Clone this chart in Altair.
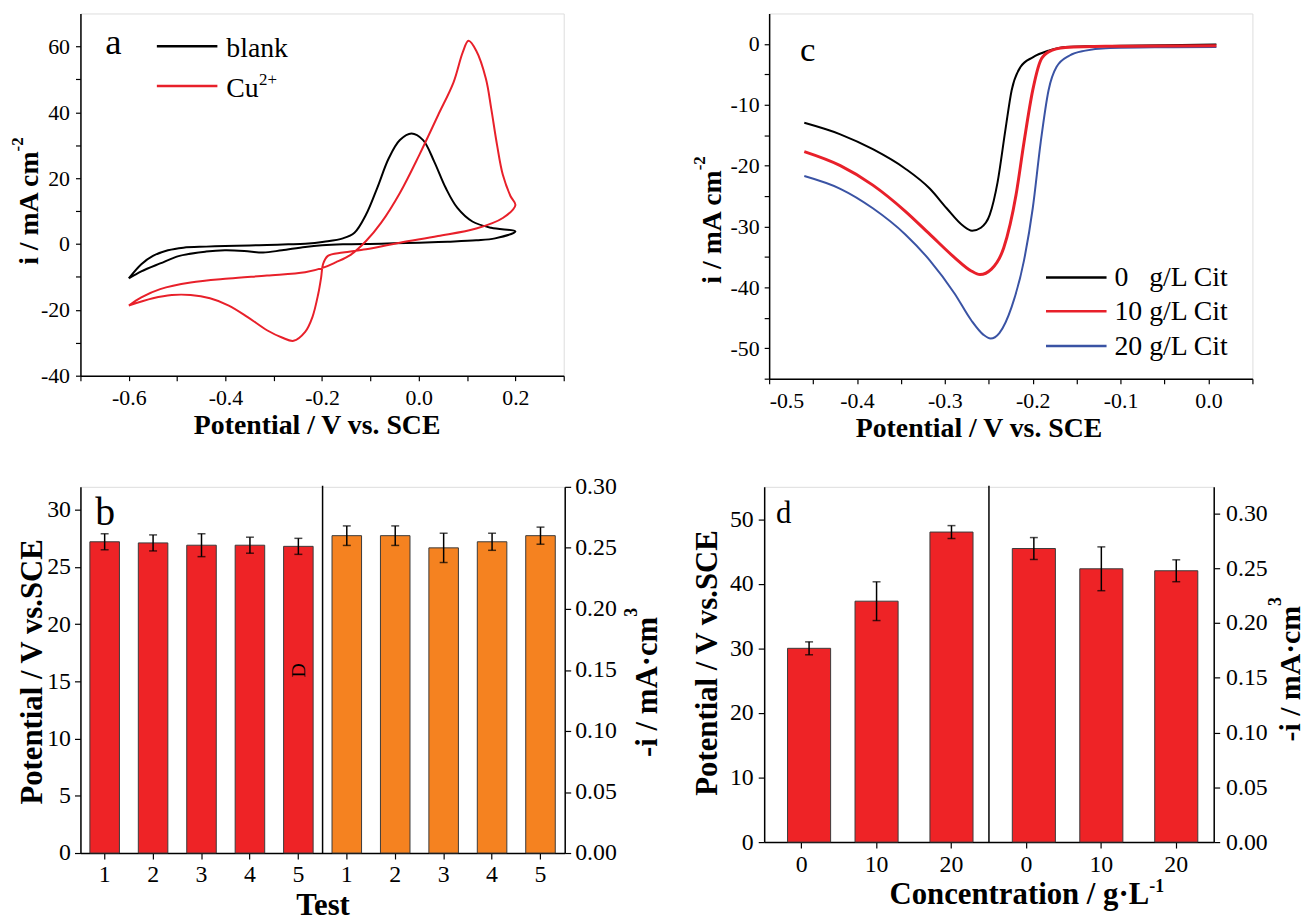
import altair as alt
import pandas as pd

SERIF = "Liberation Serif"
RED_LINE = "#E8202A"
BLUE_LINE = "#3A53A4"
BAR_RED = "#EE2326"
BAR_ORANGE = "#F58220"
EDGE = "#3a3a3a"

# ---------------- panel a : CV curves ----------------
A_BLANK_V = [-0.600, -0.574, -0.550, -0.519, -0.487, -0.440, -0.401, -0.350, -0.314, -0.270,
             -0.235, -0.196, -0.157, -0.133, -0.109, -0.086, -0.062, -0.039, -0.015, 0.009,
             0.032, 0.056, 0.080, 0.111, 0.150, 0.200,
             0.158, 0.119, 0.060, 0.001, -0.078, -0.157, -0.200, -0.235, -0.283, -0.322,
             -0.361, -0.401, -0.440, -0.495, -0.535, -0.574, -0.600]
A_BLANK_I = [-10.45, -6.13, -3.62, -1.91, -1.11, -0.80, -0.60, -0.45, -0.30, -0.10,
             0.10, 0.70, 1.71, 3.42, 8.94, 16.98, 26.03, 31.56, 33.57, 31.56,
             25.03, 16.98, 10.95, 6.83, 4.92, 3.82,
             1.71, 1.11, 0.70, 0.40, 0.10, -0.10, -0.40, -0.90, -1.90, -2.60,
             -2.10, -1.90, -2.30, -3.60, -5.90, -8.30, -10.45]
A_CU_V = [-0.600, -0.574, -0.535, -0.472, -0.393, -0.314, -0.235, -0.196, -0.172, -0.141,
          -0.109, -0.078, -0.039, 0.001, 0.040, 0.072, 0.091, 0.103, 0.119, 0.139,
          0.150, 0.162, 0.174, 0.190, 0.200,
          0.174, 0.119, 0.040, -0.039, -0.109, -0.157, -0.188, -0.198, -0.202, -0.208,
          -0.220, -0.235, -0.259, -0.283, -0.314, -0.354, -0.393, -0.432, -0.472, -0.511,
          -0.550, -0.600]
A_CU_I = [-18.7, -16.2, -13.7, -11.7, -10.5, -9.6, -8.6, -7.1, -5.6, -3.3,
          0.9, 6.4, 15.5, 27.0, 39.1, 49.1, 58.2, 61.7, 58.7, 50.2,
          41.1, 30.1, 21.0, 14.5, 11.8,
          7.9, 4.7, 2.4, 0.4, -1.6, -2.6, -3.6, -6.1, -10.2, -15.2,
          -22.2, -26.7, -29.4, -28.4, -26.2, -22.2, -18.7, -16.5, -15.5, -15.5,
          -16.5, -18.7]
A_X_TICKS = [-0.7, -0.6, -0.5, -0.4, -0.3, -0.2, -0.1, 0.0, 0.1, 0.2, 0.3]
A_Y_TICKS = [-40, -30, -20, -10, 0, 10, 20, 30, 40, 50, 60]
A_LEGEND = ["blank", "Cu"]

# ---------------- panel c : LSV curves ----------------
C0_V = [-0.460, -0.419, -0.382, -0.345, -0.317, -0.298, -0.280, -0.269, -0.259, -0.249,
        -0.240, -0.231, -0.224, -0.214, -0.200, -0.182, -0.163, -0.140, -0.100, -0.050, 0.009]
C0_I = [-12.96, -14.85, -17.3, -20.5, -23.8, -27.0, -29.8, -30.7, -30.2, -28.1,
        -22.7, -14.0, -7.6, -3.8, -2.2, -1.1, -0.5, -0.4, -0.3, -0.2, -0.1]
C10_V = [-0.460, -0.419, -0.382, -0.345, -0.317, -0.289, -0.270, -0.260, -0.247, -0.233,
         -0.219, -0.210, -0.200, -0.191, -0.182, -0.163, -0.117, -0.050, 0.009]
C10_I = [-17.7, -20.0, -23.2, -27.5, -31.3, -35.1, -37.3, -37.9, -37.0, -33.5,
         -24.8, -16.2, -7.6, -2.7, -1.3, -0.6, -0.4, -0.35, -0.3]
C20_V = [-0.460, -0.419, -0.382, -0.345, -0.317, -0.289, -0.270, -0.256, -0.248, -0.238,
         -0.224, -0.210, -0.200, -0.191, -0.182, -0.173, -0.158, -0.140, -0.117, -0.050, 0.009]
C20_I = [-21.7, -23.8, -27.0, -31.3, -35.6, -41.0, -45.4, -47.8, -48.4, -47.5,
         -43.2, -35.6, -27.0, -16.2, -7.6, -3.8, -1.9, -1.1, -0.7, -0.55, -0.5]
C_X_TICKS = [-0.5, -0.45, -0.4, -0.35, -0.3, -0.25, -0.2, -0.15, -0.1, -0.05, 0.0, 0.05]
C_Y_TICKS = [-55, -50, -45, -40, -35, -30, -25, -20, -15, -10, -5, 0]
C_LEGEND = ["0\u00a0\u00a0\u00a0g/L Cit", "10 g/L Cit", "20 g/L Cit"]

# ---------------- panel b : repeat tests ----------------
B_LABELS = ["1", "2", "3", "4", "5"]
B_POT = [27.2, 27.1, 26.9, 26.9, 26.8]
B_POT_ERR = [0.7, 0.7, 1.0, 0.7, 0.7]
B_CUR = [0.260, 0.260, 0.250, 0.255, 0.260]
B_CUR_ERR = [0.008, 0.008, 0.012, 0.007, 0.007]
B_Y_TICKS = [0, 5, 10, 15, 20, 25, 30]
B_Y2_TICKS = [0.0, 0.05, 0.10, 0.15, 0.20, 0.25, 0.30]

# ---------------- panel d : concentration ----------------
D_LABELS = ["0", "10", "20"]
D_POT = [30.0, 37.3, 48.0]
D_POT_ERR = [1.0, 3.0, 1.0]
D_CUR = [0.268, 0.2495, 0.2477]
D_CUR_ERR = [0.010, 0.020, 0.010]
D_Y_TICKS = [0, 10, 20, 30, 40, 50]
D_Y2_TICKS = [0.0, 0.05, 0.10, 0.15, 0.20, 0.25, 0.30]

# style: in the original, the "0" bars of panel d sit slightly right of their tick
D_ZERO_SHIFT_PX = 7.5

ONE = pd.DataFrame({"k": [0]})


def common(label_size, tick):
    return dict(labelFont=SERIF, labelFontSize=label_size, labelColor="black",
                titleFont=SERIF, titleFontWeight="bold", titleColor="black",
                domainColor="black", domainWidth=1.5, tickColor="black", tickWidth=1.2,
                tickSize=tick, grid=False)


def txt(s, x, y, size, weight="normal", angle=0, align="left", dy=0):
    return alt.Chart(ONE).mark_text(text=s, font=SERIF, fontSize=size, fontWeight=weight,
                                    angle=angle, align=align, baseline="alphabetic", dy=dy,
                                    color="black").encode(x=alt.value(x), y=alt.value(y))


def hline(x1, x2, y, color, w):
    return alt.Chart(ONE).mark_rule(color=color, strokeWidth=w).encode(
        x=alt.value(x1), x2=alt.value(x2), y=alt.value(y))


def signed(fmt):
    return "(datum.value < 0 ? '-' : '') + format(abs(datum.value), '%s')" % fmt


# ================= panel a =================
AW, AH = 487, 365
xa = alt.X("V:Q", scale=alt.Scale(domain=[-0.7, 0.3], nice=False, zero=False),
           axis=alt.Axis(values=A_X_TICKS,
                         labelExpr="abs(round(datum.value*10)) % 2 == 0 ? " + signed(".1f") + " : ''",
                         title="Potential / V vs. SCE", titleFontSize=28, titleX=238, titleY=58,
                         titleBaseline="alphabetic", titleAlign="center", labelPadding=7,
                         **common(22, 5)))
ya = alt.Y("I:Q", scale=alt.Scale(domain=[-40, 70], nice=False, zero=False),
           axis=alt.Axis(values=A_Y_TICKS,
                         labelExpr="datum.value % 20 == 0 ? " + signed("d") + " : ''",
                         title=None, labelPadding=6, **common(22, 5)))

df_blank = pd.DataFrame({"V": A_BLANK_V, "I": A_BLANK_I, "o": range(len(A_BLANK_V))})
df_cu = pd.DataFrame({"V": A_CU_V, "I": A_CU_I, "o": range(len(A_CU_V))})
line_blank = alt.Chart(df_blank).mark_line(color="black", strokeWidth=2, interpolate="catmull-rom").encode(
    x=xa, y=ya, order="o:Q")
line_cu = alt.Chart(df_cu).mark_line(color=RED_LINE, strokeWidth=2, interpolate="catmull-rom").encode(
    x=xa, y=ya, order="o:Q")

panel_a = alt.layer(
    line_blank, line_cu,
    hline(77, 138, 33, "black", 2.5), hline(77, 138, 73, RED_LINE, 2.5),
    txt(A_LEGEND[0], 147, 44, 28), txt(A_LEGEND[1], 147, 84, 28), txt("2+", 180, 84, 17, dy=-12),
    txt("a", 25, 41, 37),
    txt("i / mA cm", -43, 139, 28, weight="bold", angle=270, align="right"),
    txt("-2", -43, 139, 17, weight="bold", angle=270, align="left", dy=-15),
).properties(width=AW, height=AH)

# ================= panel c =================
CW, CH = 487, 368
xc = alt.X("V:Q", scale=alt.Scale(domain=[-0.5, 0.05], nice=False, zero=False),
           axis=alt.Axis(values=C_X_TICKS,
                         labelExpr="abs(round(datum.value*20)) % 2 == 0 ? " + signed(".1f") + " : ''",
                         title="Potential / V vs. SCE", titleFontSize=28, titleX=211, titleY=58,
                         titleBaseline="alphabetic", titleAlign="center", labelPadding=7,
                         **common(22, 5)))
yc = alt.Y("I:Q", scale=alt.Scale(domain=[-55, 5], nice=False, zero=False),
           axis=alt.Axis(values=C_Y_TICKS,
                         labelExpr="datum.value % 10 == 0 ? " + signed("d") + " : ''",
                         title=None, labelPadding=5, **common(22, 5)))


def lsv(v, i, color, w):
    return alt.Chart(pd.DataFrame({"V": v, "I": i})).mark_line(
        color=color, strokeWidth=w, interpolate="monotone").encode(x=xc, y=yc)


panel_c = alt.layer(
    lsv(C0_V, C0_I, "black", 2), lsv(C20_V, C20_I, BLUE_LINE, 2), lsv(C10_V, C10_I, RED_LINE, 3),
    hline(279, 340, 266, "black", 2.5), hline(279, 340, 300, RED_LINE, 2.5), hline(279, 340, 335, BLUE_LINE, 2.5),
    txt(C_LEGEND[0], 348, 275, 28), txt(C_LEGEND[1], 348, 309, 28), txt(C_LEGEND[2], 348, 344, 28),
    txt("c", 31, 48, 35),
    txt("i / mA cm", -49, 158, 28, weight="bold", angle=270, align="right"),
    txt("-2", -49, 158, 17, weight="bold", angle=270, align="left", dy=-16),
).properties(width=CW, height=CH)


# ================= bar panel helper =================
def bar_group(cats, vals, errs, xenc, scale, axis, color, cap, shifted=(), shift=0):
    df = pd.DataFrame({"cat": cats, "val": vals, "err": errs})
    layers = []
    for sel, off in ((df[~df["cat"].isin(shifted)], 0), (df[df["cat"].isin(shifted)], shift)):
        if len(sel) == 0:
            continue
        base = alt.Chart(sel).transform_calculate(lo="datum.val - datum.err", hi="datum.val + datum.err")
        layers += [
            base.mark_bar(color=color, stroke=EDGE, strokeWidth=1, xOffset=off).encode(
                x=xenc, y=alt.Y("val:Q", scale=scale, axis=axis)),
            base.mark_rule(color="black", strokeWidth=1.5, xOffset=off).encode(
                x=xenc, y=alt.Y("lo:Q", scale=scale, axis=axis), y2="hi:Q"),
            base.mark_tick(color="black", thickness=1.5, size=cap, xOffset=off).encode(
                x=xenc, y=alt.Y("lo:Q", scale=scale, axis=axis)),
            base.mark_tick(color="black", thickness=1.5, size=cap, xOffset=off).encode(
                x=xenc, y=alt.Y("hi:Q", scale=scale, axis=axis)),
        ]
    return alt.layer(*layers)


# ================= panel b =================
BW, BH = 488, 369
b_cats_l = ["L" + s for s in B_LABELS]
b_cats_r = ["R" + s for s in B_LABELS]
xb = alt.X("cat:N", scale=alt.Scale(domain=b_cats_l + b_cats_r, paddingInner=0.39, paddingOuter=0.195),
           axis=alt.Axis(labelExpr="substring(datum.value, 1)", labelAngle=0, title="Test",
                         titleFontSize=31, titleX=244, titleY=62, titleBaseline="alphabetic",
                         titleAlign="center", labelPadding=4, **common(24, 6)))
yb_axis = alt.Axis(values=B_Y_TICKS, format="d", title="Potential / V vs.SCE", titleFontSize=31,
                   titleX=-39, titleY=186, titleAngle=270, titleBaseline="alphabetic",
                   titleAlign="center", labelPadding=4, **common(24, 6))
yb2_axis = alt.Axis(values=B_Y2_TICKS, format=".2f", orient="right", title=None,
                    labelPadding=4, **common(24, 6))
left_b = bar_group(b_cats_l, B_POT, B_POT_ERR, xb, alt.Scale(domain=[0, 32], nice=False), yb_axis, BAR_RED, 8)
right_b = bar_group(b_cats_r, B_CUR, B_CUR_ERR, xb, alt.Scale(domain=[0, 0.30], nice=False), yb2_axis, BAR_ORANGE, 8)
divider_b = alt.Chart(ONE).mark_rule(color="black", strokeWidth=1.5).encode(
    x=alt.value(BW / 2), y=alt.value(-1), y2=alt.value(BH))
panel_b = alt.layer(
    left_b, right_b, divider_b,
    txt("b", 15, 38, 40),
    txt("D", 226, 185, 20, angle=270, align="center"),
    txt("-i / mA\u00b7cm", 581, 131, 31, weight="bold", angle=270, align="right"),
    txt("3", 581, 131, 18, weight="bold", angle=270, align="left", dy=-20),
).resolve_scale(y="independent").properties(width=BW, height=BH)

# ================= panel d =================
DW, DH = 453, 358
d_cats_l = ["L" + s for s in D_LABELS]
d_cats_r = ["R" + s for s in D_LABELS]
xd = alt.X("cat:N", scale=alt.Scale(domain=d_cats_l + d_cats_r, paddingInner=0.425, paddingOuter=0.2125),
           axis=alt.Axis(labelExpr="substring(datum.value, 1)", labelAngle=0, title=None,
                         labelPadding=5, **common(24, 6)))
yd_axis = alt.Axis(values=D_Y_TICKS, format="d", title="Potential / V vs.SCE", titleFontSize=31,
                   titleX=-48, titleY=177, titleAngle=270, titleBaseline="alphabetic",
                   titleAlign="center", labelPadding=5, **common(24, 6))
yd2_axis = alt.Axis(values=D_Y2_TICKS, format=".2f", orient="right", title=None,
                    labelPadding=6, **common(24, 6))
left_d = bar_group(d_cats_l, D_POT, D_POT_ERR, xd, alt.Scale(domain=[0, 55], nice=False), yd_axis, BAR_RED, 8,
                   shifted=["L0"], shift=D_ZERO_SHIFT_PX)
right_d = bar_group(d_cats_r, D_CUR, D_CUR_ERR, xd, alt.Scale(domain=[0, 0.3243], nice=False), yd2_axis, BAR_RED, 8,
                    shifted=["R0"], shift=D_ZERO_SHIFT_PX)
divider_d = alt.Chart(ONE).mark_rule(color="black", strokeWidth=1.5).encode(
    x=alt.value(DW / 2), y=alt.value(-1), y2=alt.value(DH))
panel_d = alt.layer(
    left_d, right_d, divider_d,
    txt("d", 12, 36, 31),
    txt("-i / mA\u00b7cm", 540, 120, 30, weight="bold", angle=270, align="right"),
    txt("3", 540, 120, 18, weight="bold", angle=270, align="left", dy=-19),
    txt("Concentration / g\u00b7L", 388, 420, 31, weight="bold", align="right"),
    txt("-1", 388, 420, 18, weight="bold", align="left", dy=-12),
).resolve_scale(y="independent").properties(width=DW, height=DH)

row1 = alt.hconcat(panel_a, panel_c, spacing=125)
row2 = alt.hconcat(panel_b, panel_d, spacing=27)
chart = alt.vconcat(row1, row2, spacing=31).properties(
    padding={"left": 0, "top": 1, "right": 0, "bottom": 0}
).configure_view(stroke="black", strokeWidth=1.5).configure(background="white")

chart.save("out.html", embed_options={"renderer": "svg", "actions": False})
